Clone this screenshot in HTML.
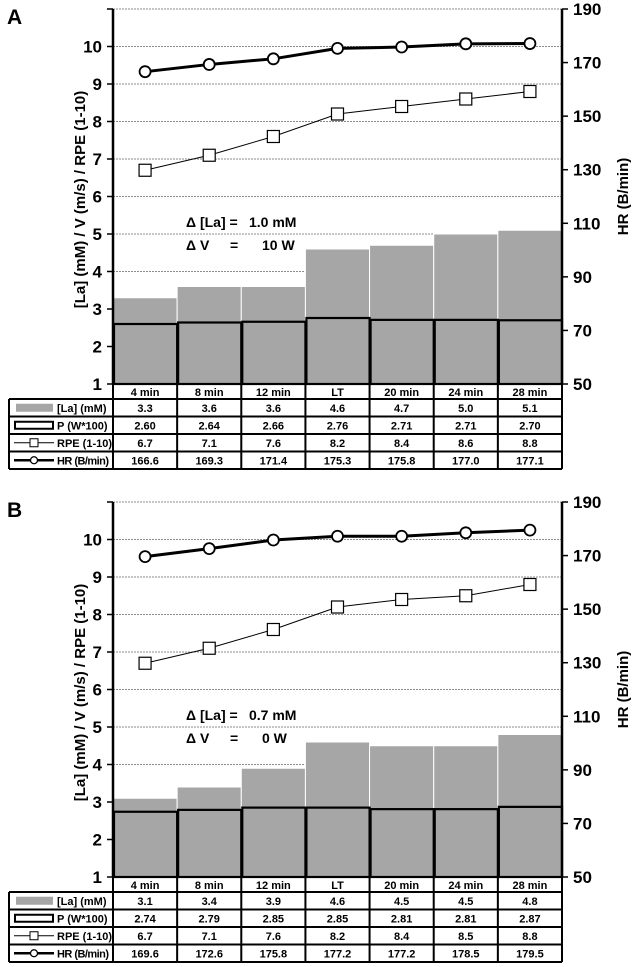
<!DOCTYPE html>
<html><head><meta charset="utf-8"><style>
html,body{margin:0;padding:0;background:#fff;}
svg{display:block;font-family:"Liberation Sans",Arial,sans-serif;font-weight:bold;}
</style></head><body>
<svg id="chart" width="638" height="967" viewBox="0 0 638 967" xmlns="http://www.w3.org/2000/svg"></svg>
<script>
const categories = ["4 min","8 min","12 min","LT","20 min","24 min","28 min"];
const laA = [3.3,3.6,3.6,4.6,4.7,5.0,5.1];
const pA = [2.60,2.64,2.66,2.76,2.71,2.71,2.70];
const rpeA = [6.7,7.1,7.6,8.2,8.4,8.6,8.8];
const hrA = [166.6,169.3,171.4,175.3,175.8,177.0,177.1];
const laB = [3.1,3.4,3.9,4.6,4.5,4.5,4.8];
const pB = [2.74,2.79,2.85,2.85,2.81,2.81,2.87];
const rpeB = [6.7,7.1,7.6,8.2,8.4,8.5,8.8];
const hrB = [169.6,172.6,175.8,177.2,177.2,178.5,179.5];
const leftTicks = [1,2,3,4,5,6,7,8,9,10];
const rightTicks = [50,70,90,110,130,150,170,190];
const deltaA = ["1.0  mM","10  W"];
const deltaB = ["0.7  mM","0  W"];

const NS="http://www.w3.org/2000/svg";
const svg=document.getElementById('chart');
function mk(tag,attrs,parent,text){const e=document.createElementNS(NS,tag);for(const k in attrs)e.setAttribute(k,attrs[k]);if(text!==undefined)e.textContent=text;(parent||svg).appendChild(e);return e;}

function panel(letter,off,la,p,rpe,hr,delta){
  const g=mk('g',{});
  
  
  const X0=113,X1=562,Ybase=384+off,Ytop=9+off;
  const unit=(Ybase-Ytop)/10;
  const yL=v=>Ybase-(v-1)*unit;
  const yR=v=>Ybase-(v-50)/140*(Ybase-Ytop);
  const bw=(X1-X0)/categories.length;
  const xC=i=>X0+bw*(i+0.5);
  const lbl=mk('text',{x:7,y:off+24,'font-size':21},g,letter);
  
  for(let v=2;v<=11;v++){
    const l=mk('line',{x1:X0,x2:X1,y1:yL(v),y2:yL(v),stroke:'#666','stroke-width':0.8,'stroke-dasharray':'2,1'},g);
    
  }
  la.forEach((v,i)=>{
    const r=mk('rect',{x:X0+bw*i,y:yL(v),width:bw,height:Ybase-yL(v),fill:'#a6a6a6',stroke:'#fff','stroke-width':1},g);
    
  });
  p.forEach((v,i)=>{
    const r=mk('rect',{x:X0+bw*i+1,y:yL(v),width:bw-1,height:Ybase-yL(v),fill:'none',stroke:'#000','stroke-width':2.2},g);
    
  });
  const rl=mk('polyline',{points:rpe.map((v,i)=>xC(i)+','+yL(v)).join(' '),fill:'none',stroke:'#000','stroke-width':1},g);
  
  rpe.forEach((v,i)=>{const s=mk('rect',{x:xC(i)-6,y:yL(v)-6,width:12,height:12,fill:'#fff',stroke:'#000','stroke-width':1.2},g);
    });
  const hl=mk('polyline',{points:hr.map((v,i)=>xC(i)+','+yR(v)).join(' '),fill:'none',stroke:'#000','stroke-width':3},g);
  
  hr.forEach((v,i)=>{const c=mk('circle',{cx:xC(i),cy:yR(v),r:5.5,fill:'#fff',stroke:'#000','stroke-width':1.8},g);
    });
  mk('line',{x1:X0,x2:X0,y1:Ytop,y2:Ybase,stroke:'#000','stroke-width':2.5},g);
  mk('line',{x1:X1,x2:X1,y1:Ytop,y2:Ybase,stroke:'#000','stroke-width':2.5},g);
  mk('line',{x1:X0,x2:X1,y1:Ybase,y2:Ybase,stroke:'#000','stroke-width':2},g);
  leftTicks.forEach(v=>{
    mk('line',{x1:X0-6,x2:X0,y1:yL(v),y2:yL(v),stroke:'#000','stroke-width':1.5},g);
    const t=mk('text',{x:X0-11,y:yL(v)+6,'font-size':17,'text-anchor':'end'},g,v);
    
  });
  mk('line',{x1:X0-6,x2:X0,y1:Ytop,y2:Ytop,stroke:'#000','stroke-width':1.5},g);
  rightTicks.forEach(v=>{
    mk('line',{x1:X1,x2:X1+6,y1:yR(v),y2:yR(v),stroke:'#000','stroke-width':1.5},g);
    const t=mk('text',{x:X1+11,y:yR(v)+6,'font-size':17},g,v);
    
  });
  const cy=(Ytop+Ybase)/2;
  const yt=mk('text',{x:0,y:0,'font-size':15,'text-anchor':'middle',transform:`translate(85,${cy+3}) rotate(-90)`},g,'[La] (mM) / V (m/s)  / RPE (1-10)');
  
  const yt2=mk('text',{x:0,y:0,'font-size':15,'text-anchor':'middle',transform:`translate(628,${cy}) rotate(-90)`},g,'HR (B/min)');
  
  const d1=mk('text',{x:186,y:off+227,'font-size':14},g);
  mk('tspan',{},d1,'\u0394 [La] =');mk('tspan',{x:249},d1,delta[0]);
  const d2=mk('text',{x:186,y:off+250,'font-size':14},g);
  mk('tspan',{},d2,'\u0394 V');mk('tspan',{x:230},d2,'=');mk('tspan',{x:262},d2,delta[1]);
  const hdrB=Ybase+15, rh=17.5, TL=9;
  categories.forEach((c,i)=>{
    const t=mk('text',{x:xC(i),y:Ybase+12,'font-size':11,'text-anchor':'middle'},g,c);
    
  });
  for(let i=0;i<=categories.length;i++){
    mk('line',{x1:X0+bw*i,x2:X0+bw*i,y1:Ybase,y2:hdrB+4*rh,stroke:'#000','stroke-width':2},g);
  }
  mk('line',{x1:TL,x2:TL,y1:hdrB,y2:hdrB+4*rh,stroke:'#000','stroke-width':2},g);
  for(let r=0;r<=4;r++) mk('line',{x1:TL,x2:X1,y1:hdrB+r*rh,y2:hdrB+r*rh,stroke:'#000','stroke-width':2},g);
  const names=['[La] (mM)','P (W*100)','RPE (1-10)','HR (B/min)'];
  const rows=[la.map(v=>v.toFixed(1)),p.map(v=>v.toFixed(2)),rpe.map(v=>v.toFixed(1)),hr.map(v=>v.toFixed(1))];
  names.forEach((n,r)=>{
    const ym=hdrB+r*rh+rh/2;
    if(r===0) mk('rect',{x:16,y:ym-4,width:37,height:8,fill:'#a6a6a6'},g);
    if(r===1) mk('rect',{x:15,y:ym-3.5,width:38,height:7,fill:'#fff',stroke:'#000','stroke-width':2},g);
    if(r===2){mk('line',{x1:14,x2:54,y1:ym,y2:ym,stroke:'#000','stroke-width':1},g);mk('rect',{x:30,y:ym-4,width:8,height:8,fill:'#fff',stroke:'#000','stroke-width':1},g);}
    if(r===3){mk('line',{x1:14,x2:54,y1:ym,y2:ym,stroke:'#000','stroke-width':2.5},g);mk('circle',{cx:34,cy:ym,r:3.5,fill:'#fff',stroke:'#000','stroke-width':1.3},g);}
    const t=mk('text',{x:57,y:ym+4,'font-size':11},g,n);
    if(r===3) t.setAttribute('textLength','52');
    
    rows[r].forEach((v,i)=>{
      const c=mk('text',{x:xC(i),y:ym+4,'font-size':11,'text-anchor':'middle'},g,v);
      
    });
  });
}
panel('A',0,laA,pA,rpeA,hrA,deltaA);
panel('B',493,laB,pB,rpeB,hrB,deltaB);
</script>
</body></html>
